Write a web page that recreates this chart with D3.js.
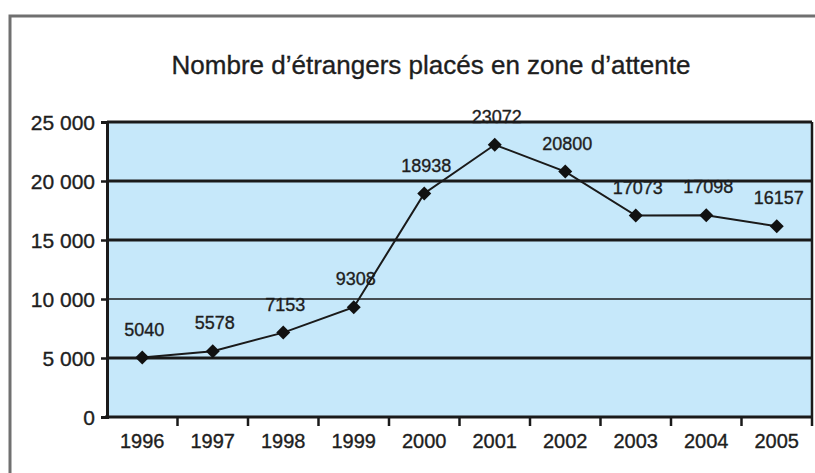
<!DOCTYPE html>
<html>
<head>
<meta charset="utf-8">
<script src="https://cdn.jsdelivr.net/npm/d3@7"></script>
<style>
  body { margin: 0; background: #fff; }
  svg text { font-family: "Liberation Sans", Arial, sans-serif; fill: #1e1e1e; stroke: #1e1e1e; stroke-width: 0.35px; }
</style>
</head>
<body>
<svg id="chart" width="815" height="473"></svg>
<script>
// data
const years = ["1996", "1997", "1998", "1999", "2000", "2001", "2002", "2003", "2004", "2005"];
const values = [5040, 5578, 7153, 9308, 18938, 23072, 20800, 17073, 17098, 16157];
const yTicks = [0, 5000, 10000, 15000, 20000, 25000];
const title = "Nombre d\u2019\u00e9trangers plac\u00e9s en zone d\u2019attente";

const margin = { top: 122, right: 3, bottom: 56, left: 107 };
const width = 815 - margin.left - margin.right;
const height = 473 - margin.top - margin.bottom;

const svg = d3.select("#chart");

// outer frame (top and left edges only are visible)
svg.append("path")
  .attr("d", "M10,473 V16 H815")
  .attr("fill", "none")
  .attr("stroke", "#707070")
  .attr("stroke-width", 3);

svg.append("text")
  .attr("x", 431)
  .attr("y", 74)
  .attr("text-anchor", "middle")
  .attr("font-size", 26)
  .text(title);

const g = svg.append("g")
  .attr("transform", "translate(" + margin.left + "," + margin.top + ")");

const x = d3.scaleBand()
  .domain(years)
  .range([0, width]);

const y = d3.scaleLinear()
  .domain([0, 25000])
  .range([height, 0]);

// plot background
g.append("rect")
  .attr("width", width)
  .attr("height", height)
  .attr("fill", "#c6e8fa");

// value labels (drawn under the grid, like the original)
g.selectAll(".vlabel")
  .data(values)
  .enter()
  .append("text")
  .attr("class", "vlabel")
  .attr("x", (d, i) => x(years[i]) + x.bandwidth() / 2 + 2)
  .attr("y", d => y(d) - 22)
  .attr("text-anchor", "middle")
  .attr("font-size", 18)
  .text(d => d);

// grid lines
g.selectAll(".grid")
  .data(yTicks.filter(d => d > 0))
  .enter()
  .append("line")
  .attr("x1", 0)
  .attr("x2", width)
  .attr("y1", d => y(d))
  .attr("y2", d => y(d))
  .attr("stroke", "#1a1a1a")
  .attr("stroke-width", d => d === 10000 ? 1.3 : 2.8);

// right border
g.append("line")
  .attr("x1", width).attr("x2", width)
  .attr("y1", 0).attr("y2", height)
  .attr("stroke", "#1a1a1a")
  .attr("stroke-width", 2.5);

// y axis
const yAxis = g.append("g")
  .call(d3.axisLeft(y).tickValues(yTicks).tickSize(6).tickPadding(6)
    .tickFormat(d => d3.format(",")(d).replace(",", " ")));
yAxis.select(".domain").attr("stroke", "#1a1a1a").attr("stroke-width", 3);
yAxis.selectAll(".tick line").attr("stroke", "#1a1a1a").attr("stroke-width", 2.5);
yAxis.selectAll("text").attr("font-size", 21).attr("font-family", null).attr("fill", null).attr("dy", "0.36em");

// x axis with ticks between the categories
const xb = g.append("g").attr("transform", "translate(0," + height + ")");
xb.append("line")
  .attr("x1", -2).attr("x2", width)
  .attr("stroke", "#1a1a1a")
  .attr("stroke-width", 3);
xb.selectAll(".xtick")
  .data(years)
  .enter()
  .append("line")
  .attr("x1", d => x(d) + x.bandwidth())
  .attr("x2", d => x(d) + x.bandwidth())
  .attr("y1", 0)
  .attr("y2", 9)
  .attr("stroke", "#1a1a1a")
  .attr("stroke-width", 2.5);
xb.selectAll(".xlabel")
  .data(years)
  .enter()
  .append("text")
  .attr("x", d => x(d) + x.bandwidth() / 2)
  .attr("y", 31)
  .attr("text-anchor", "middle")
  .attr("font-size", 20)
  .text(d => d);

// series line
const line = d3.line()
  .x((d, i) => x(years[i]) + x.bandwidth() / 2)
  .y(d => y(d));

g.append("path")
  .datum(values)
  .attr("d", line)
  .attr("fill", "none")
  .attr("stroke", "#1a1a1a")
  .attr("stroke-width", 2);

g.selectAll(".marker")
  .data(values)
  .enter()
  .append("path")
  .attr("d", d3.symbol().type(d3.symbolDiamond2).size(125))
  .attr("transform", (d, i) => "translate(" + (x(years[i]) + x.bandwidth() / 2) + "," + y(d) + ")")
  .attr("fill", "#111");
</script>
</body>
</html>
